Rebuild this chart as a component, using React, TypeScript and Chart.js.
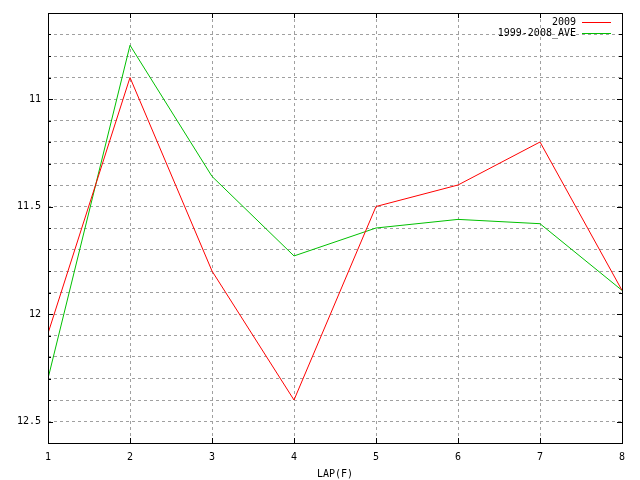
import React, { useEffect, useRef } from 'react';
import { Chart, registerables } from 'chart.js';

Chart.register(...registerables);

const laps = [1, 2, 3, 4, 5, 6, 7, 8];
const times2009 = [12.09, 10.9, 11.8, 12.4, 11.5, 11.4, 11.2, 11.89];
const timesAve = [12.3, 10.75, 11.36, 11.73, 11.6, 11.56, 11.58, 11.89];
const yLabelValues = [11, 11.5, 12, 12.5];

const FONT = '"DejaVu Sans Mono", monospace';

const isMajor = (v: number) => yLabelValues.some(m => Math.abs(m - v) < 1e-6);

// gnuplot style: black frame with inward ticks on all sides, key at top right
const framePlugin = {
  id: 'frame',
  afterDraw(chart: any) {
    const { ctx, chartArea: a, scales } = chart;
    ctx.save();
    ctx.strokeStyle = '#000';
    ctx.lineWidth = 1;
    ctx.beginPath();
    scales.y.ticks.forEach((t: any) => {
      const py = Math.round(scales.y.getPixelForValue(t.value)) + 0.5;
      const len = isMajor(t.value) ? 5 : 3;
      ctx.moveTo(a.left, py);
      ctx.lineTo(a.left + len, py);
      ctx.moveTo(a.right, py);
      ctx.lineTo(a.right - len, py);
    });
    scales.x.ticks.forEach((t: any) => {
      const px = Math.round(scales.x.getPixelForValue(t.value)) + 0.5;
      ctx.moveTo(px, a.top);
      ctx.lineTo(px, a.top + 5);
      ctx.moveTo(px, a.bottom);
      ctx.lineTo(px, a.bottom - 5);
    });
    ctx.stroke();
    ctx.strokeRect(a.left + 0.5, a.top + 0.5, a.right - a.left, a.bottom - a.top);

    ctx.font = '10px ' + FONT;
    ctx.textAlign = 'right';
    ctx.textBaseline = 'middle';
    chart.data.datasets.forEach((ds: any, i: number) => {
      const y = 22.5 + i * 11;
      ctx.fillStyle = '#000';
      ctx.fillText(ds.label, 576, y);
      ctx.strokeStyle = ds.borderColor;
      ctx.beginPath();
      ctx.moveTo(582, y);
      ctx.lineTo(611, y);
      ctx.stroke();
    });
    ctx.restore();
  }
};

export default function App() {
  const canvasRef = useRef<HTMLCanvasElement | null>(null);

  useEffect(() => {
    document.body.style.margin = '0';
    const ctx = canvasRef.current?.getContext('2d');
    if (!ctx) return;

    const chart = new Chart(ctx, {
      type: 'line',
      data: {
        datasets: [
          {
            label: '2009',
            data: laps.map((x, i) => ({ x, y: times2009[i] })),
            borderColor: '#ff0000',
            borderWidth: 1,
            pointRadius: 0,
            tension: 0
          },
          {
            label: '1999-2008_AVE',
            data: laps.map((x, i) => ({ x, y: timesAve[i] })),
            borderColor: '#00c000',
            borderWidth: 1,
            pointRadius: 0,
            tension: 0
          }
        ]
      },
      options: {
        responsive: false,
        animation: false,
        layout: { padding: { top: 11, right: 18, left: 0, bottom: 0 } },
        plugins: {
          legend: { display: false },
          tooltip: { enabled: false }
        },
        scales: {
          x: {
            type: 'linear',
            min: 1,
            max: 8,
            afterFit: (s: any) => { s.height = 37; },
            ticks: {
              stepSize: 1,
              padding: 8,
              color: '#000',
              font: { family: FONT, size: 10 }
            },
            grid: { color: '#a0a0a0', lineWidth: 1, drawTicks: false },
            border: { display: false, dash: [3, 3] },
            title: {
              display: true,
              text: 'LAP(F)',
              color: '#000',
              padding: 0,
              font: { family: FONT, size: 10 }
            }
          },
          y: {
            type: 'linear',
            reverse: true,
            min: 10.6,
            max: 12.6,
            afterFit: (s: any) => { s.width = 48; },
            ticks: {
              stepSize: 0.1,
              padding: 7,
              color: '#000',
              font: { family: FONT, size: 10 },
              callback: (v: any) => (isMajor(Number(v)) ? String(yLabelValues.find(m => Math.abs(m - Number(v)) < 1e-6)) : '')
            },
            grid: { color: '#a0a0a0', lineWidth: 1, drawTicks: false },
            border: { display: false, dash: [3, 3] }
          }
        }
      },
      plugins: [framePlugin]
    });

    return () => chart.destroy();
  }, []);

  return (
    <div style={{ width: 640, height: 480, background: '#fff' }}>
      <canvas ref={canvasRef} width={640} height={480} />
    </div>
  );
}
